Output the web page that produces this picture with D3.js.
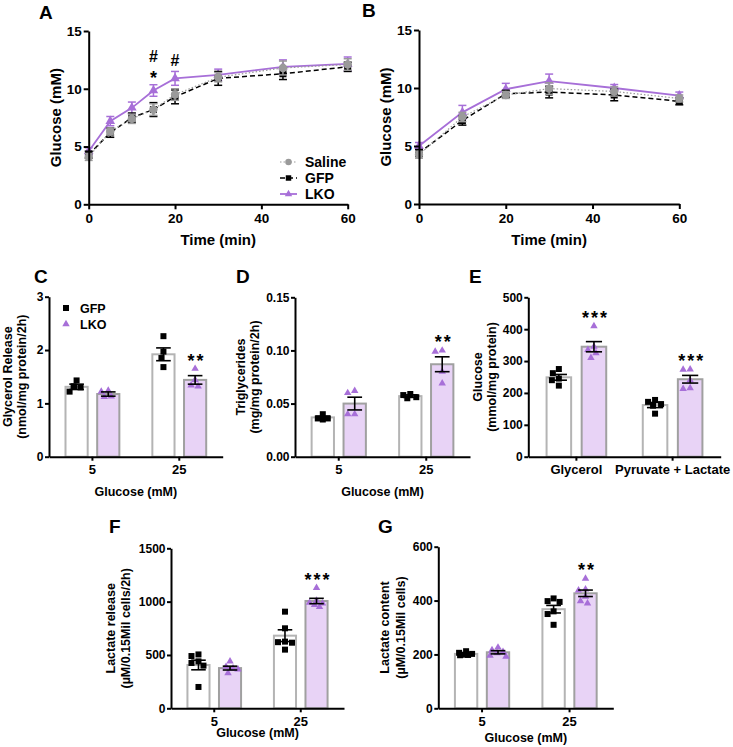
<!DOCTYPE html>
<html>
<head>
<meta charset="utf-8">
<script src="https://cdn.jsdelivr.net/npm/d3@7"></script>
<style>
body { margin: 0; background: #fff; }
</style>
</head>
<body>
<svg id="fig" width="733" height="747"></svg>
<script>
var FONT = "'Liberation Sans', Arial, sans-serif";
var PURPLE = "#a76fd8";

// A: glucose curve, series means / SEM
var timesA = [0, 5, 10, 15, 20, 30, 45, 60];
var salineA = [4.1, 6.3, 7.4, 8.2, 9.5, 11.0, 11.8, 12.1];
var salineSemA = [0.3, 0.3, 0.4, 0.5, 0.5, 0.4, 0.6, 0.5];
var gfpA = [4.3, 6.2, 7.5, 8.2, 9.3, 10.9, 11.3, 11.9];
var gfpSemA = [0.3, 0.4, 0.4, 0.6, 0.6, 0.6, 0.5, 0.4];
var lkoA = [4.6, 7.2, 8.35, 9.85, 10.9, 11.2, 11.9, 12.15];
var lkoSemA = [0.3, 0.4, 0.5, 0.5, 0.6, 0.5, 0.6, 0.6];
var marksA = [{t: 15, text: ["*", "#"]}, {t: 20, text: ["#"]}];

// B: glucose curve
var timesB = [0, 10, 20, 30, 45, 60];
var salineB = [4.25, 7.5, 9.4, 9.95, 9.7, 9.1];
var salineSemB = [0.3, 0.4, 0.3, 0.5, 0.4, 0.3];
var gfpB = [4.4, 7.2, 9.5, 9.65, 9.4, 8.85];
var gfpSemB = [0.3, 0.4, 0.3, 0.5, 0.5, 0.3];
var lkoB = [5.0, 7.9, 9.9, 10.6, 10.0, 9.35];
var lkoSemB = [0.3, 0.6, 0.5, 0.6, 0.3, 0.3];

var timeTicks = [0, 20, 40, 60];
var glucoseTicks = [0, 5, 10, 15];
var seriesNames = ["Saline", "GFP", "LKO"];

// bar panels
var glucoseGroups = ["5", "25"];
var substrateGroups = ["Glycerol", "Pyruvate + Lactate"];

// C: glycerol release
var glycGfp = [1.31, 1.92], glycGfpSem = [0.05, 0.12];
var glycLko = [1.175, 1.44], glycLkoSem = [0.04, 0.08];
var glycGfpPts = [[1.43, 1.32, 1.30, 1.22], [2.26, 1.97, 1.85, 1.68]];
var glycLkoPts = [[1.24, 1.22, 1.13, 1.12], [1.65, 1.44, 1.32, 1.34]];
var glycStars = ["", "**"];

// D: triglycerides
var tgGfp = [0.037, 0.057], tgGfpSem = [0.0012, 0.0012];
var tgLko = [0.050, 0.087], tgLkoSem = [0.006, 0.007];
var tgGfpPts = [[0.040, 0.036, 0.036, 0.035], [0.059, 0.058, 0.056, 0.055]];
var tgLkoPts = [[0.062, 0.060, 0.040, 0.040], [0.100, 0.099, 0.080, 0.069]];
var tgStars = ["", "**"];

// E: glucose production
var gpGfp = [249, 162], gpGfpSem = [9, 8];
var gpLko = [345, 243], gpLkoSem = [16, 12];
var gpGfpPts = [[275, 262, 245, 240, 223], [178, 172, 165, 160, 135]];
var gpLkoPts = [[410, 345, 335, 325, 310], [274, 273, 240, 215, 213]];
var gpStars = ["***", "***"];

// F: lactate release
var lrGfp = [406, 681], lrGfpSem = [45, 55];
var lrLko = [377, 1006], lrLkoSem = [18, 25];
var lrGfpPts = [[505, 490, 440, 425, 400, 200], [906, 750, 625, 620, 615, 550]];
var lrLkoPts = [[440, 390, 375, 365, 330], [1130, 1010, 990, 970, 950, 985]];
var lrStars = ["", "***"];

// G: lactate content
var lcGfp = [202, 368], lcGfpSem = [3, 14];
var lcLko = [208, 427], lcLkoSem = [6, 12];
var lcGfpPts = [[212, 206, 202, 199, 197, 198], [408, 398, 395, 360, 350, 310]];
var lcLkoPts = [[226, 216, 210, 205, 196, 192], [482, 442, 438, 415, 398, 390]];
var lcStars = ["", "**"];

var svg = d3.select("#fig");

function styleAxis(sel, size) {
	sel.attr("font-family", FONT).attr("font-size", size).attr("font-weight", "bold");
	sel.select(".domain").attr("stroke", "#000").attr("stroke-width", 2);
	sel.selectAll(".tick line").attr("stroke", "#000").attr("stroke-width", 2);
	sel.selectAll(".tick text").attr("fill", "#000");
}

function addText(g, x, y, str, size, anchor) {
	return g.append("text").attr("x", x).attr("y", y).text(str)
		.attr("font-family", FONT).attr("font-weight", "bold")
		.attr("font-size", size).attr("text-anchor", anchor || "middle");
}

function addYLabel(g, x, y, str, size) {
	g.append("text").attr("transform", "translate(" + x + "," + y + ") rotate(-90)")
		.attr("dy", "0.36em").text(str)
		.attr("font-family", FONT).attr("font-weight", "bold")
		.attr("font-size", size).attr("text-anchor", "middle");
}

function panelLetter(x, y, str) {
	addText(svg, x, y, str, 19, "start");
}

function drawCurvePanel(cfg) {
	var g = svg.append("g");
	var x = d3.scaleLinear().domain([0, 60]).range([cfg.left, cfg.right]);
	var y = d3.scaleLinear().domain([0, 15]).range([cfg.bottom, cfg.top]);

	// draw order: LKO at the back, GFP, then saline on top
	var order = ["LKO", "GFP", "Saline"];
	order.forEach(function(name) {
		var s = cfg.series.filter(function(d) { return d.name == name; })[0];
		var pts = cfg.times.map(function(t, i) { return {t: t, m: s.mean[i], e: s.sem[i]}; });
		var line = d3.line().x(function(d) { return x(d.t); }).y(function(d) { return y(d.m); });
		g.append("path").datum(pts).attr("d", line).attr("fill", "none")
			.attr("stroke", s.color).attr("stroke-width", s.width)
			.attr("stroke-dasharray", s.dash);
		var eb = g.append("g").attr("stroke", s.color).attr("stroke-width", 1.5);
		pts.forEach(function(d) {
			var cx = x(d.t);
			eb.append("line").attr("x1", cx).attr("x2", cx).attr("y1", y(d.m - d.e)).attr("y2", y(d.m + d.e));
			eb.append("line").attr("x1", cx - 4).attr("x2", cx + 4).attr("y1", y(d.m - d.e)).attr("y2", y(d.m - d.e));
			eb.append("line").attr("x1", cx - 4).attr("x2", cx + 4).attr("y1", y(d.m + d.e)).attr("y2", y(d.m + d.e));
		});
		g.selectAll(null).data(pts).enter().append("path")
			.attr("d", d3.symbol().type(s.symbol).size(s.size))
			.attr("transform", function(d) { return "translate(" + x(d.t) + "," + y(d.m) + ")"; })
			.attr("fill", s.fill);
	});

	g.append("g").attr("transform", "translate(0," + cfg.bottom + ")")
		.call(d3.axisBottom(x).tickValues(timeTicks).tickSize(5).tickSizeOuter(0).tickPadding(4))
		.call(styleAxis, 13.5);
	g.append("g").attr("transform", "translate(" + cfg.left + ",0)")
		.call(d3.axisLeft(y).tickValues(glucoseTicks).tickSize(5).tickSizeOuter(0).tickPadding(2))
		.call(styleAxis, 13.5);

	addText(g, (cfg.left + cfg.right) / 2, cfg.bottom + 41, "Time (min)", 15);
	addYLabel(g, cfg.left - 33, (cfg.top + cfg.bottom) / 2, "Glucose (mM)", 15);

	// significance marks stacked above the LKO error bar
	(cfg.marks || []).forEach(function(mk) {
		var i = cfg.times.indexOf(mk.t);
		var lko = cfg.series[2];
		var top = y(lko.mean[i] + lko.sem[i]);
		mk.text.forEach(function(str, k) {
			var cy = top - 11 - k * 18;
			if (str == "*") addText(g, x(mk.t), cy + 10.5, str, 18);
			else addText(g, x(mk.t), cy + 6, str, 16);
		});
	});

	if (cfg.legend) {
		var lg = g.append("g");
		cfg.series.forEach(function(s, i) {
			var ly = cfg.legend.y + i * 16;
			lg.append("line").attr("x1", cfg.legend.x).attr("x2", cfg.legend.x + 17)
				.attr("y1", ly).attr("y2", ly).attr("stroke", s.color)
				.attr("stroke-width", s.width).attr("stroke-dasharray", s.dash);
			lg.append("path").attr("d", d3.symbol().type(s.symbol).size(s.size * 0.6))
				.attr("transform", "translate(" + (cfg.legend.x + 8.5) + "," + ly + ")")
				.attr("fill", s.fill);
			addText(lg, cfg.legend.x + 25, ly + 5, s.name, 14, "start");
		});
	}
}

function curveSeries(saline, salineSem, gfp, gfpSem, lko, lkoSem) {
	return [
		{name: seriesNames[0], mean: saline, sem: salineSem, color: "#9a9a9a", fill: "#9a9a9a", width: 1.2, dash: "1.5,2", symbol: d3.symbolCircle, size: 55},
		{name: seriesNames[1], mean: gfp, sem: gfpSem, color: "#000", fill: "#000", width: 1.5, dash: "5,3", symbol: d3.symbolSquare, size: 50},
		{name: seriesNames[2], mean: lko, sem: lkoSem, color: PURPLE, fill: PURPLE, width: 1.8, dash: null, symbol: d3.symbolTriangle, size: 40}
	];
}

// spread points sideways so markers do not sit on top of each other
function spreadPoints(vals, y, size, maxOff) {
	var placed = [];
	var offs = [];
	var order = vals.map(function(v, i) { return i; }).sort(function(a, b) { return vals[b] - vals[a]; });
	var cands = [0];
	for (var k = 1; k <= maxOff; k++) { cands.push(-k, k); }
	order.forEach(function(i) {
		var py = y(vals[i]);
		var best = 0, bestD = -1;
		for (var c = 0; c < cands.length; c++) {
			var dmin = Infinity;
			placed.forEach(function(p) {
				var d = Math.hypot(p[0] - cands[c], p[1] - py);
				if (d < dmin) dmin = d;
			});
			if (dmin >= size) { best = cands[c]; bestD = dmin; break; }
			if (dmin > bestD) { bestD = dmin; best = cands[c]; }
		}
		placed.push([best, py]);
		offs[i] = best;
	});
	return offs;
}

function drawBarPanel(cfg) {
	var g = svg.append("g");
	var x = d3.scaleBand().domain(cfg.groups).range([cfg.left, cfg.right]);
	var step = x.bandwidth();
	var sub = d3.scaleBand().domain(["GFP", "LKO"]).range([-0.31 * step, 0.31 * step]).paddingInner(0.3);
	var bw = sub.bandwidth();
	var y = d3.scaleLinear().domain([0, cfg.ymax]).range([cfg.bottom, cfg.top]);

	var bars = [];
	cfg.groups.forEach(function(grp, gi) {
		bars.push({grp: grp, key: "GFP", m: cfg.gfp[gi], e: cfg.gfpSem[gi], pts: cfg.gfpPts[gi], star: ""});
		bars.push({grp: grp, key: "LKO", m: cfg.lko[gi], e: cfg.lkoSem[gi], pts: cfg.lkoPts[gi], star: cfg.stars[gi]});
	});
	bars.forEach(function(b) { b.cx = x(b.grp) + step / 2 + sub(b.key) + bw / 2; });

	g.selectAll(null).data(bars).enter().append("rect")
		.attr("x", function(b) { return b.cx - bw / 2; })
		.attr("y", function(b) { return y(b.m); })
		.attr("width", bw)
		.attr("height", function(b) { return cfg.bottom - y(b.m); })
		.attr("fill", function(b) { return b.key == "LKO" ? "#e8d3f6" : "#fff"; })
		.attr("stroke", function(b) { return b.key == "LKO" ? "#a0a0a0" : "#b4b4b4"; })
		.attr("stroke-width", 2);

	bars.forEach(function(b) {
		var offs = spreadPoints(b.pts, y, 6.5, bw / 2 - 3);
		var sym = b.key == "LKO" ? d3.symbol().type(d3.symbolTriangle).size(24) : d3.symbol().type(d3.symbolSquare).size(36);
		g.selectAll(null).data(b.pts).enter().append("path")
			.attr("d", sym)
			.attr("transform", function(v, i) { return "translate(" + (b.cx + offs[i]) + "," + y(v) + ")"; })
			.attr("fill", b.key == "LKO" ? PURPLE : "#000");

		var eb = g.append("g").attr("stroke", "#000").attr("stroke-width", 1.6);
		var lo = y(b.m - b.e), hi = y(b.m + b.e), hw = bw * 0.33;
		eb.append("line").attr("x1", b.cx).attr("x2", b.cx).attr("y1", lo).attr("y2", hi);
		eb.append("line").attr("x1", b.cx - hw).attr("x2", b.cx + hw).attr("y1", lo).attr("y2", lo);
		eb.append("line").attr("x1", b.cx - hw).attr("x2", b.cx + hw).attr("y1", hi).attr("y2", hi);

		if (b.star) {
			var top = Math.min(y(d3.max(b.pts)), hi);
			addText(g, b.cx + 1.5, top - 2, b.star, 18).attr("letter-spacing", 2);
		}
	});

	g.append("g").attr("transform", "translate(0," + cfg.bottom + ")")
		.call(d3.axisBottom(x).tickSize(4).tickSizeOuter(0).tickPadding(4))
		.call(styleAxis, 13);
	g.append("g").attr("transform", "translate(" + cfg.left + ",0)")
		.call(d3.axisLeft(y).tickValues(cfg.ticks).tickFormat(d3.format(cfg.fmt)).tickSize(4).tickSizeOuter(0).tickPadding(1.5))
		.call(styleAxis, 12);

	var midY = (cfg.top + cfg.bottom) / 2;
	cfg.ylabel.forEach(function(str, i) { addYLabel(g, cfg.ylabelX[i], midY, str, 12.5); });
	if (cfg.xlabel) addText(g, (cfg.left + cfg.right) / 2, cfg.xlabelY, cfg.xlabel, 12.5);

	if (cfg.legend) {
		g.append("path").attr("d", d3.symbol().type(d3.symbolSquare).size(36))
			.attr("transform", "translate(" + cfg.legend.x + "," + cfg.legend.y + ")").attr("fill", "#000");
		addText(g, cfg.legend.x + 14, cfg.legend.y + 4.5, "GFP", 12.5, "start");
		g.append("path").attr("d", d3.symbol().type(d3.symbolTriangle).size(24))
			.attr("transform", "translate(" + cfg.legend.x + "," + (cfg.legend.y + 16) + ")").attr("fill", PURPLE);
		addText(g, cfg.legend.x + 14, cfg.legend.y + 20.5, "LKO", 12.5, "start");
	}
}

drawCurvePanel({
	left: 88.7, right: 347.7, top: 31, bottom: 204.3,
	times: timesA, series: curveSeries(salineA, salineSemA, gfpA, gfpSemA, lkoA, lkoSemA),
	marks: marksA, legend: {x: 280, y: 162}
});
drawCurvePanel({
	left: 419, right: 679.3, top: 30, bottom: 204,
	times: timesB, series: curveSeries(salineB, salineSemB, gfpB, gfpSemB, lkoB, lkoSemB)
});

drawBarPanel({
	left: 49, right: 222.7, top: 296.7, bottom: 456.7, ymax: 3, ticks: [0, 1, 2, 3], fmt: "d",
	groups: glucoseGroups, gfp: glycGfp, gfpSem: glycGfpSem, lko: glycLko, lkoSem: glycLkoSem,
	gfpPts: glycGfpPts, lkoPts: glycLkoPts, stars: glycStars,
	ylabel: ["Glycerol Release", "(nmol/mg protein/2h)"], ylabelX: [7.5, 21.5],
	xlabel: "Glucose (mM)", xlabelY: 496, legend: {x: 66, y: 308}
});
drawBarPanel({
	left: 295, right: 470, top: 297.3, bottom: 456.7, ymax: 0.15, ticks: [0, 0.05, 0.10, 0.15], fmt: ".2f",
	groups: glucoseGroups, gfp: tgGfp, gfpSem: tgGfpSem, lko: tgLko, lkoSem: tgLkoSem,
	gfpPts: tgGfpPts, lkoPts: tgLkoPts, stars: tgStars,
	ylabel: ["Triglycerides", "(mg/mg protein/2h)"], ylabelX: [240, 254],
	xlabel: "Glucose (mM)", xlabelY: 496
});
drawBarPanel({
	left: 528.3, right: 720.7, top: 297.3, bottom: 456.7, ymax: 500, ticks: [0, 100, 200, 300, 400, 500], fmt: "d",
	groups: substrateGroups, gfp: gpGfp, gfpSem: gpGfpSem, lko: gpLko, lkoSem: gpLkoSem,
	gfpPts: gpGfpPts, lkoPts: gpLkoPts, stars: gpStars,
	ylabel: ["Glucose", "(mmol/mg protein)"], ylabelX: [477, 491]
});
drawBarPanel({
	left: 171, right: 344, top: 548.3, bottom: 708.3, ymax: 1500, ticks: [0, 500, 1000, 1500], fmt: "d",
	groups: glucoseGroups, gfp: lrGfp, gfpSem: lrGfpSem, lko: lrLko, lkoSem: lrLkoSem,
	gfpPts: lrGfpPts, lkoPts: lrLkoPts, stars: lrStars,
	ylabel: ["Lactate release", "(\u00b5M/0.15Mil cells/2h)"], ylabelX: [110, 125],
	xlabel: "Glucose (mM)", xlabelY: 737
});
drawBarPanel({
	left: 438.3, right: 613.3, top: 546.7, bottom: 708.3, ymax: 600, ticks: [0, 200, 400, 600], fmt: "d",
	groups: glucoseGroups, gfp: lcGfp, gfpSem: lcGfpSem, lko: lcLko, lkoSem: lcLkoSem,
	gfpPts: lcGfpPts, lkoPts: lcLkoPts, stars: lcStars,
	ylabel: ["Lactate content", "(\u00b5M/0.15Mil cells)"], ylabelX: [384, 400],
	xlabel: "Glucose (mM)", xlabelY: 742
});

panelLetter(39, 18.5, "A");
panelLetter(362, 17, "B");
panelLetter(34, 283, "C");
panelLetter(236, 283, "D");
panelLetter(469, 283, "E");
panelLetter(109, 533, "F");
panelLetter(378, 533, "G");
</script>
</body>
</html>
